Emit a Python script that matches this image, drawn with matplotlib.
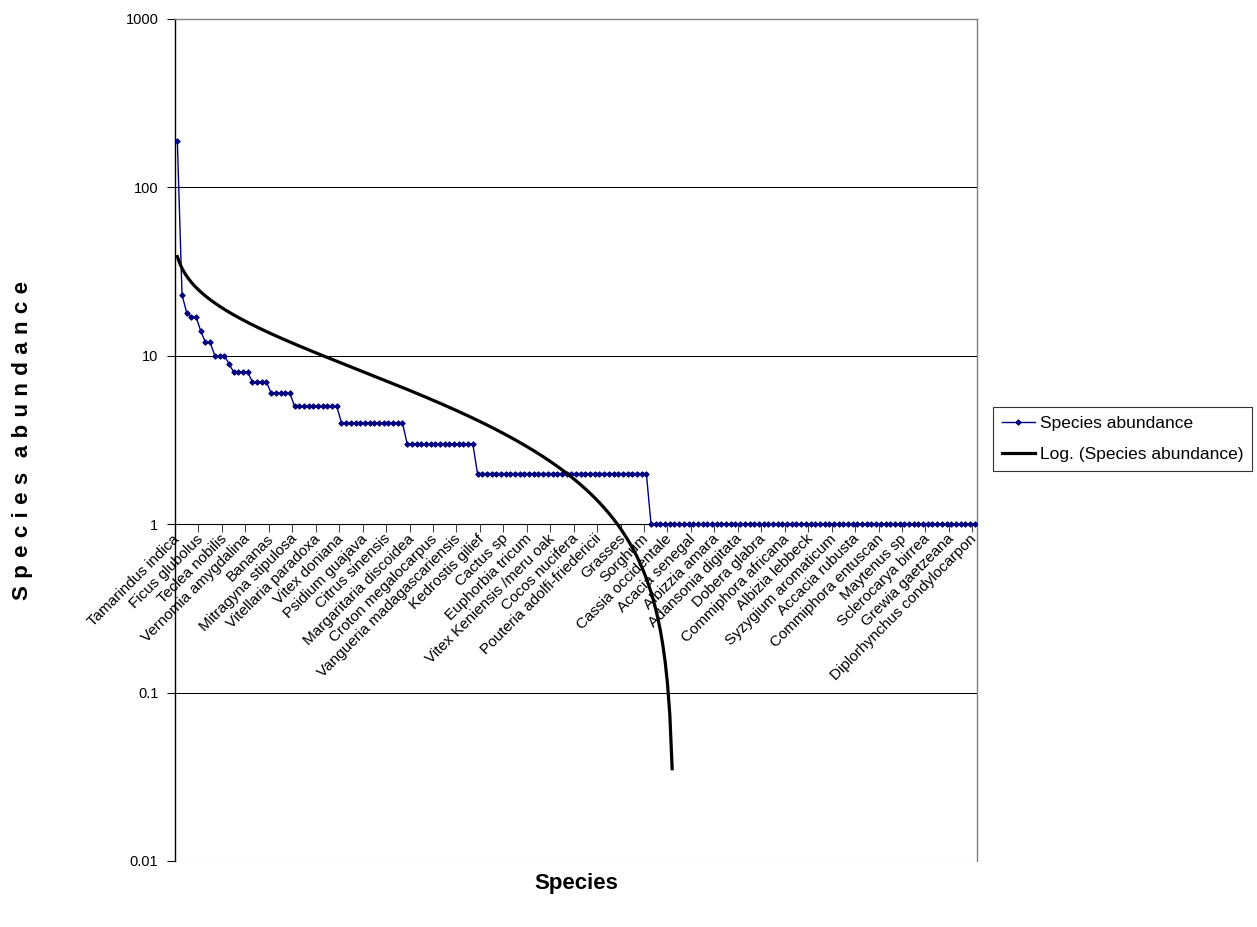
import matplotlib
matplotlib.use("Agg")
import matplotlib.pyplot as plt
from matplotlib.lines import Line2D
import numpy as np

plt.rcParams['font.family'] = ['Liberation Sans', 'DejaVu Sans']

# abundance of each species, ranked from most to least common (171 species)
abundance = [
    188, 23, 18, 17, 17, 14, 12, 12, 10, 10,
    10, 9, 8, 8, 8, 8, 7, 7, 7, 7,
    6, 6, 6, 6, 6, 5, 5, 5, 5, 5,
    5, 5, 5, 5, 5, 4, 4, 4, 4, 4,
    4, 4, 4, 4, 4, 4, 4, 4, 4, 3,
    3, 3, 3, 3, 3, 3, 3, 3, 3, 3,
    3, 3, 3, 3, 2, 2, 2, 2, 2, 2,
    2, 2, 2, 2, 2, 2, 2, 2, 2, 2,
    2, 2, 2, 2, 2, 2, 2, 2, 2, 2,
    2, 2, 2, 2, 2, 2, 2, 2, 2, 2,
    2, 1, 1, 1, 1, 1, 1, 1, 1, 1,
    1, 1, 1, 1, 1, 1, 1, 1, 1, 1,
    1, 1, 1, 1, 1, 1, 1, 1, 1, 1,
    1, 1, 1, 1, 1, 1, 1, 1, 1, 1,
    1, 1, 1, 1, 1, 1, 1, 1, 1, 1,
    1, 1, 1, 1, 1, 1, 1, 1, 1, 1,
    1, 1, 1, 1, 1, 1, 1, 1, 1, 1,
    1,
]

# every fifth species name is shown on the category axis
labelled_species = [
    "Tamarindus indica", "Ficus glubolus", "Teclea nobilis", "Vernomia amygdalina",
    "Bananas", "Mitragyna stipulosa", "Vitellaria paradoxa", "Vitex doniana",
    "Psidium guajava", "Citrus sinensis", "Margaritaria discoidea", "Croton megalocarpus",
    "Vangueria madagascariensis", "Kedrostis gilief", "Cactus sp", "Euphorbia tricum",
    "Vitex Keniensis /meru oak", "Cocos nucifera", "Pouteria adolfi-friedericii", "Grasses",
    "Sorghum", "Cassia occidentale", "Acacia senegal", "Albizzia amara",
    "Adansonia digitata", "Dobera glabra", "Commiphora africana", "Albizia lebbeck",
    "Syzygium aromaticum", "Accacia rubusta", "Commiphora entuscan", "Maytenus sp",
    "Sclerocarya birrea", "Grewia gaetzeana", "Diplorhynchus condylocarpon",
]
label_step = 5

y = np.array(abundance, dtype=float)
x = np.arange(1, len(y) + 1)

# logarithmic trendline  y = a*ln(x) + b
a, b = np.polyfit(np.log(x), y, 1)
xt = np.linspace(1, len(y), 341)
yt = a * np.log(xt) + b
keep = yt > 0

fig = plt.figure(figsize=(12.57, 9.27), dpi=100)
ax = fig.add_axes([175 / 1257, 1 - 861 / 927, 802 / 1257, 842 / 927])

ax.set_yscale('log')
ax.set_ylim(0.01, 1000)
ax.set_xlim(0.5, len(y) + 0.5)

for v in [0.01, 0.1, 1, 10, 100]:
    ax.axhline(v, color='black', lw=0.75, zorder=1)

ax.plot(x, y, color='#000080', lw=1.0, marker='D', ms=2.8, mew=0.7, zorder=3)
ax.plot(xt[keep], yt[keep], color='black', lw=2.3, zorder=4)

# category axis crosses the value axis at 1
ax.spines['bottom'].set_position(('data', 1))
ax.spines['bottom'].set_linewidth(0.75)
ax.spines['left'].set_linewidth(1.0)
for s in ['top', 'right']:
    ax.spines[s].set_color('#808080')
    ax.spines[s].set_linewidth(1.0)

ax.set_xticks(np.arange(0.5, len(y) + 0.6, label_step))
ax.set_xticklabels([])
ax.tick_params(axis='x', which='major', direction='out', length=6, width=0.75, color='#404040')
ax.set_xticks(np.arange(1, len(y) + 1, label_step), minor=True)
ax.set_xticklabels(labelled_species, minor=True, rotation=45, ha='right',
                   va='center', rotation_mode='anchor', fontsize=11)
ax.tick_params(axis='x', which='minor', length=0, pad=9)

ax.set_yticks([0.01, 0.1, 1, 10, 100, 1000])
ax.set_yticklabels(['0.01', '0.1', '1', '10', '100', '1000'], fontsize=10.5)
ax.yaxis.set_minor_locator(matplotlib.ticker.NullLocator())
ax.tick_params(axis='y', which='major', direction='out', length=6, width=0.75, pad=6)

sp = "\u2004"
fig.text(23 / 1257, 1 - 440 / 927, sp.join("Species") + sp * 2 + sp.join("abundance"),
         rotation=90, ha='center', va='center', fontsize=16, fontweight='bold')
fig.text(576 / 1257, 1 - 884 / 927, "Species", ha='center', va='center',
         fontsize=16, fontweight='bold')

handles = [
    Line2D([], [], color='#000080', lw=1.0, marker='D', ms=2.8, mew=0.7),
    Line2D([], [], color='black', lw=2.3),
]
leg = fig.legend(handles, ['Species abundance', 'Log. (Species abundance)'],
                 loc='center left', bbox_to_anchor=(993 / 1257, 1 - 439 / 927),
                 fontsize=12.5, frameon=True, fancybox=False, edgecolor='black',
                 handlelength=1.9, handletextpad=0.3, borderpad=0.5, labelspacing=0.9,
                 borderaxespad=0)
leg.get_frame().set_linewidth(0.8)

fig.savefig('out.png', dpi=100)
